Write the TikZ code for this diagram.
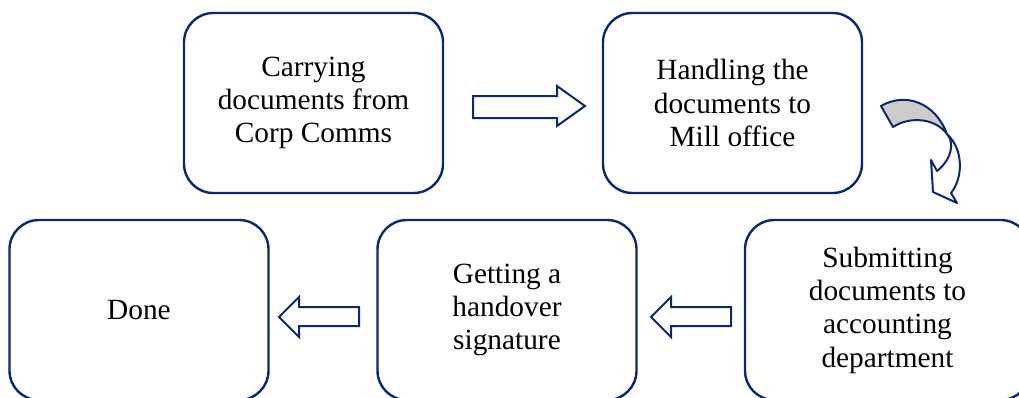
\documentclass[tikz,border=0pt]{standalone}
\usepackage{fontspec}
\setmainfont{Liberation Serif}
\definecolor{navy}{RGB}{12,40,110}
\definecolor{backgray}{RGB}{204,204,204}
\begin{document}
\begin{tikzpicture}[x=0.75pt,y=-0.75pt,
  stepbox/.style={draw=navy,line width=1.8pt,rounded corners=22pt,fill=white,
    minimum width=194.25pt,minimum height=135pt,align=center,
    font=\fontsize{22}{25}\selectfont,text=black,inner sep=0pt},
  blockarrow/.style={draw=navy,line width=1.5pt,fill=white,line join=miter},
  bandback/.style={draw=navy,line width=1.5pt,fill=backgray,line join=round}]
\useasboundingbox (0,0) rectangle (1019,397);
\clip (0,0) rectangle (1019,397);

% process steps
\node[stepbox] (carry) at (313.5,103) {Carrying\\documents from\\Corp Comms};
\node[stepbox] (handle) at (732.5,103) {Handling the\\documents to\\Mill office};
\node[stepbox,minimum width=213.75pt] (submit) at (887.5,310) {Submitting\\documents to\\accounting\\department};
\node[stepbox] (sign) at (507,310) {Getting a\\handover\\signature};
\node[stepbox] (done) at (139,310) {Done};

% block arrow: carry -> handle
\draw[blockarrow] (473,96) -- (557,96) -- (557,86) -- (585,106) -- (557,126)
  -- (557,118) -- (473,118) -- cycle;

% block arrow: submit -> sign
\draw[blockarrow] (731,307) -- (671,307) -- (671,297) -- (651,317) -- (671,337)
  -- (671,326) -- (731,326) -- cycle;

% block arrow: sign -> done
\draw[blockarrow] (359,307) -- (299,307) -- (299,297) -- (279,317) -- (299,337)
  -- (299,326) -- (359,326) -- cycle;

% curved arrow: handle -> submit (back face)
\draw[bandback] (881,106) .. controls (905,92) and (935,102) .. (947,134)
  .. controls (935,118) and (910,116) .. (893,127) -- cycle;
% curved arrow: front face with head
\draw[blockarrow,line join=round] (947,134) .. controls (954,142) and (953,158) .. (937,171)
  -- (931,160) -- (933,192) -- (957,203) -- (951,193)
  .. controls (963,178) and (964,150) .. (947,134) -- cycle;
\end{tikzpicture}
\end{document}
